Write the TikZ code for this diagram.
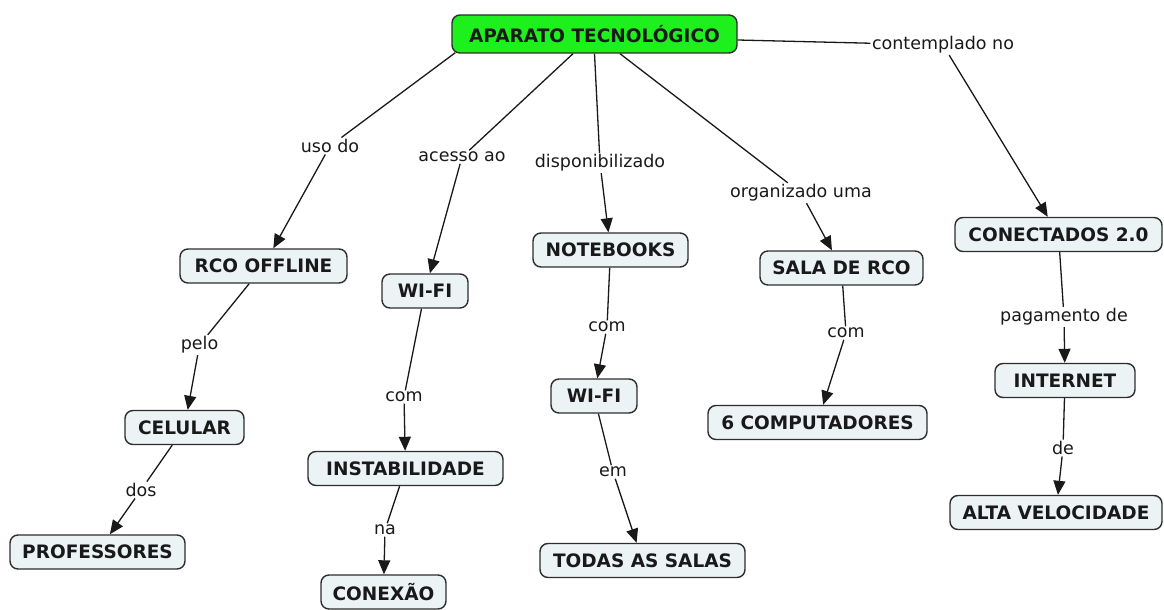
\documentclass[tikz,border=0pt]{standalone}
\usepackage{fontspec}
\setmainfont{DejaVu Sans}
\usetikzlibrary{arrows.meta,calc}
\definecolor{boxfill}{RGB}{236,243,245}
\definecolor{boxdraw}{RGB}{45,45,45}
\definecolor{rootfill}{RGB}{30,240,30}
\definecolor{linecol}{RGB}{25,25,25}
\begin{document}
\begin{tikzpicture}[x=1pt,y=-1pt,
  concept/.style={draw=boxdraw, line width=1.4pt, fill=boxfill, rounded corners=8pt,
    inner xsep=10pt, inner ysep=0pt, minimum height=34pt,
    font=\fontsize{18.5}{20}\selectfont\bfseries, text=black!90},
  root/.style={concept, fill=rootfill, minimum height=38pt},
  lbl/.style={inner sep=1.5pt, font=\fontsize{17.5}{19}\selectfont, text=black!90},
  link/.style={draw=linecol, line width=1.3pt},
  arr/.style={link, -{Triangle[length=14pt,width=12pt]}}]
\useasboundingbox (0,0) rectangle (1164,610);

% concepts
\node[root, minimum width=285pt] (ap) at (594.5,34) {APARATO TECNOLÓGICO};
\node[concept, minimum width=167pt] (rco) at (263.5,266) {RCO OFFLINE};
\node[concept, minimum width=86pt] (wf1) at (425,291) {WI-FI};
\node[concept, minimum width=155pt] (nb) at (610.5,250) {NOTEBOOKS};
\node[concept, minimum width=163pt] (sala) at (841.5,268) {SALA DE RCO};
\node[concept, minimum width=207pt] (con) at (1058.5,234.5) {CONECTADOS 2.0};
\node[concept, minimum width=119pt] (cel) at (184.5,427.5) {CELULAR};
\node[concept, minimum width=195pt] (inst) at (405.5,468.5) {INSTABILIDADE};
\node[concept, minimum width=86pt] (wf2) at (594,396) {WI-FI};
\node[concept, minimum width=219pt] (comp) at (817.5,422.5) {6 COMPUTADORES};
\node[concept, minimum width=140pt] (int) at (1065,380.5) {INTERNET};
\node[concept, minimum width=175pt] (prof) at (97.5,552) {PROFESSORES};
\node[concept, minimum width=125pt] (conx) at (383.5,592) {CONEXÃO};
\node[concept, minimum width=205pt] (todas) at (642.5,560.5) {TODAS AS SALAS};
\node[concept, minimum width=212pt] (alta) at (1056,512.5) {ALTA VELOCIDADE};

% linking phrases
\node[lbl] (l1) at (330,146) {uso do};
\node[lbl] (l2) at (462,157) {acesso ao};
\node[lbl] (l3) at (600,163) {disponibilizado};
\node[lbl] (l4) at (801,193) {organizado uma};
\node[lbl] (l5) at (943,45) {contemplado no};
\node[lbl] (l6) at (199.5,345) {pelo};
\node[lbl] (l7) at (141,490) {dos};
\node[lbl] (l8) at (404,397) {com};
\node[lbl] (l9) at (385,530) {na};
\node[lbl] (l10) at (607,327) {com};
\node[lbl] (l11) at (846,333) {com};
\node[lbl] (l12) at (613,472) {em};
\node[lbl] (l13) at (1064,317) {pagamento de};
\node[lbl] (l14) at (1063,448) {de};

% connectors from the root
\draw[link] ($(ap.south west)+(4,-1)$) -- (l1);
\draw[arr] (l1) -- (rco);
\draw[link] ($(ap.south)+(-21.5,0)$) -- (l2);
\draw[arr] (l2) -- (wf1);
\draw[link] (ap.south) -- (l3);
\draw[arr] (l3) -- (nb);
\draw[link] ($(ap.south)+(25.5,0)$) -- (l4);
\draw[arr] (l4) -- (sala);
\draw[link] ($(ap.east)+(0,6)$) -- (l5);
\draw[arr] (l5) -- (con);

% lower connectors
\draw[link] (rco) -- (l6);
\draw[arr] (l6) -- (cel);
\draw[link] (cel) -- (l7);
\draw[arr] (l7) -- (prof);
\draw[link] (wf1) -- (l8);
\draw[arr] (l8) -- (inst);
\draw[link] (inst) -- (l9);
\draw[arr] (l9) -- (conx);
\draw[link] (nb) -- (l10);
\draw[arr] (l10) -- (wf2);
\draw[link] (wf2) -- (l12);
\draw[arr] (l12) -- (todas);
\draw[link] (sala) -- (l11);
\draw[arr] (l11) -- (comp);
\draw[link] (con) -- (l13);
\draw[arr] (l13) -- (int);
\draw[link] (int) -- (l14);
\draw[arr] (l14) -- (alta);
\end{tikzpicture}
\end{document}
